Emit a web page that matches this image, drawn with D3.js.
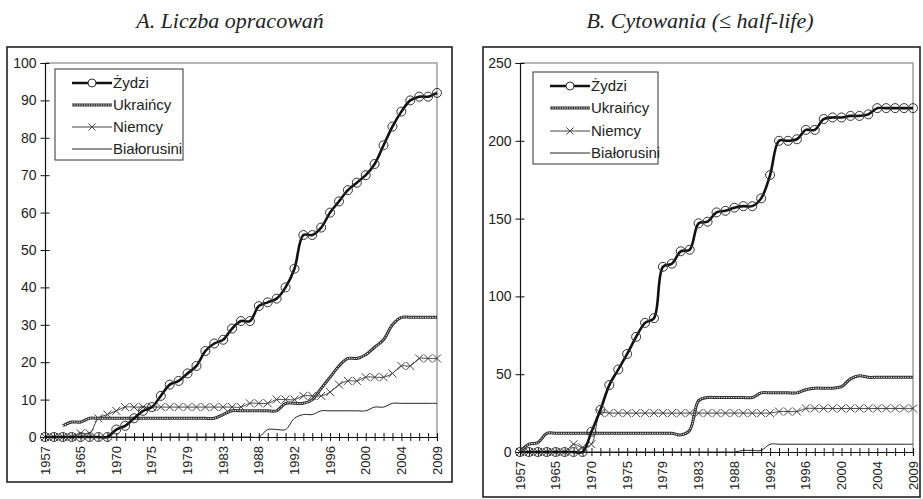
<!DOCTYPE html>
<html><head><meta charset="utf-8">
<script src="https://cdn.jsdelivr.net/npm/d3@7"></script>
<style>
body{margin:0;background:#fff;}
svg{display:block;}
</style></head>
<body>
<svg id="c" width="923" height="499"></svg>
<script>
const years = [1957,1960,1962,1964,1965,1966,1967,1969,1970,1971,1972,1974,1975,1976,1977,1978,1979,1980,1981,1982,1983,1984,1985,1986,1988,1989,1990,1991,1992,1993,1994,1995,1996,1997,1998,1999,2000,2001,2002,2003,2004,2005,2006,2007,2009];
const shownYears = [1957,1965,1970,1975,1979,1983,1988,1992,1996,2000,2004,2009];
const seriesNames = ["Żydzi","Ukraińcy","Niemcy","Białorusini"];
const titles = ["A. Liczba opracowań","B. Cytowania (≤ half-life)"];

// Chart A: number of studies
const zydziA = [0,0,0,0,0,0,0,0,2,3,5,7,8,11,14,15,17,19,23,25,26,29,31,31,35,36,37,40,45,54,54,56,60,63,66,68,70,73,78,83,87,90,91,91,92];
const ukrA   = [null,null,3,4,4,5,5,5,5,5,5,5,5,5,5,5,5,5,5,5,6,7,7,7,7,7,7,9,9,9,10,13,16,19,21,21,22,24,26,30,32,32,32,32,32];
const niemA  = [0,0,0,0,1,1,5,6,7,8,8,8,8,8,8,8,8,8,8,8,8,8,8,9,9,9,10,10,10,11,11,11,12,14,15,15,16,16,16,17,19,19,21,21,21];
const belA   = [0,0,0,0,0,0,0,0,0,0,0,0,0,0,0,0,0,0,0,0,0,0,0,0,0,2,2,2,5,6,6,7,7,7,7,7,7,8,8,9,9,9,9,9,9];
const ticksA = [0,10,20,30,40,50,60,70,80,90,100];

// Chart B: citations
const zydziB = [0,0,0,0,0,0,0,0,13,27,43,53,63,74,83,86,119,121,129,130,147,148,154,155,157,158,158,163,178,200,200,201,207,207,214,215,215,216,216,217,221,221,221,221,221];
const ukrB   = [0,5,6,12,12,12,12,12,12,12,12,12,12,12,12,12,12,12,11,14,33,35,35,35,35,35,35,38,38,38,38,38,40,41,41,41,42,47,49,48,48,48,48,48,48];
const niemB  = [0,0,0,0,0,0,5,3,5,25,25,25,25,25,25,25,25,25,25,25,25,25,25,25,25,25,25,25,25,26,26,26,28,28,28,28,28,28,28,28,28,28,28,28,28];
const belB   = [0,0,0,0,0,0,0,0,0,0,0,0,0,0,0,0,0,0,0,0,0,0,0,0,0,1,1,1,5,5,5,5,5,5,5,5,5,5,5,5,5,5,5,5,5];
const ticksB = [0,50,100,150,200,250];

const svg = d3.select("#c");
const FONT = "'Liberation Sans', Arial, sans-serif";

function drawChart(cfg){
  const g = svg.append("g");
  g.append("rect").attr("x",cfg.frame[0]).attr("y",cfg.frame[1])
    .attr("width",cfg.frame[2]-cfg.frame[0]).attr("height",cfg.frame[3]-cfg.frame[1])
    .attr("fill","none").attr("stroke","#222").attr("stroke-width",1.6);
  svg.append("text").attr("x",cfg.titleX).attr("y",28).attr("text-anchor","middle")
    .attr("font-family","'Liberation Serif','Times New Roman',serif").attr("font-style","italic")
    .attr("font-size",22).attr("fill","#222").text(cfg.title);

  const x = d3.scalePoint().domain(years).range([cfg.x0,cfg.x1]).padding(0);
  const y = d3.scaleLinear().domain([0,cfg.max]).range([cfg.y0,cfg.y1]);

  g.append("path").attr("d",`M${cfg.x0},${cfg.y1}H${cfg.x1}V${cfg.y0}`)
    .attr("fill","none").attr("stroke","#a0a0a0").attr("stroke-width",1.5);

  const ya = g.append("g").attr("transform",`translate(${cfg.x0},0)`)
    .call(d3.axisLeft(y).tickValues(cfg.ticks).tickSize(4.5).tickPadding(4).tickFormat(d3.format("d")));
  ya.select(".domain").attr("stroke","#111").attr("stroke-width",1.2);
  ya.selectAll(".tick line").attr("x2",4.5).attr("x1",-4.5).attr("stroke","#111");
  ya.selectAll("text").attr("font-family",FONT).attr("font-size",14).attr("fill","#222");

  const xa = g.append("g").attr("transform",`translate(0,${cfg.y0})`)
    .call(d3.axisBottom(x).tickSize(4).tickFormat(""));
  xa.select(".domain").attr("stroke","#111").attr("stroke-width",1.2);
  xa.selectAll(".tick line").attr("y1",-4).attr("y2",4).attr("stroke","#111");
  g.selectAll(null).data(shownYears).enter().append("text")
    .attr("transform",d=>`matrix(0,-1,1,0,${x(d)},${cfg.y0+9})`)
    .style("transform-origin","0 0")
    .attr("text-anchor","end").attr("dy","0.35em")
    .attr("font-family",FONT).attr("font-size",13).attr("fill","#222").text(d=>d);

  const curve = d3.curveCatmullRom.alpha(0.5);
  const line = d3.line().defined(d => d[1] !== null)
    .x(d => x(d[0])).y(d => y(d[1])).curve(curve);
  const pts = arr => years.map((yr,i) => [yr, arr[i]]);

  g.append("path").attr("d",line(pts(cfg.bel))).attr("fill","none").attr("stroke","#222").attr("stroke-width",1);
  g.append("path").attr("d",line(pts(cfg.niem))).attr("fill","none").attr("stroke","#444").attr("stroke-width",1);
  g.selectAll(null).data(pts(cfg.niem).filter(d=>d[1]!==null)).enter().append("path")
    .attr("d",d=>{const cx=x(d[0]),cy=y(d[1]),s=4;return `M${cx-s},${cy-s}L${cx+s},${cy+s}M${cx-s},${cy+s}L${cx+s},${cy-s}`;})
    .attr("stroke","#444").attr("stroke-width",1).attr("fill","none");
  g.append("path").attr("d",line(pts(cfg.ukr))).attr("fill","none").attr("stroke","#333").attr("stroke-width",3);
  g.append("path").attr("d",line(pts(cfg.ukr))).attr("fill","none").attr("stroke","#fff").attr("stroke-width",1).attr("stroke-dasharray","1.2,1.2");
  g.append("path").attr("d",line(pts(cfg.zyd))).attr("fill","none").attr("stroke","#111").attr("stroke-width",2.6);
  g.selectAll(null).data(pts(cfg.zyd)).enter().append("circle")
    .attr("cx",d=>x(d[0])).attr("cy",d=>y(d[1])).attr("r",4.5)
    .attr("fill","none").attr("stroke","#333").attr("stroke-width",1);

  const L = cfg.legend;
  g.append("rect").attr("x",L.x).attr("y",L.y).attr("width",L.w).attr("height",L.h)
    .attr("fill","#fff").attr("stroke","#333").attr("stroke-width",1);
  seriesNames.forEach((name,i) => {
    const ry = L.rows[i];
    const lx0 = L.x + 17, lx1 = L.x + 57;
    const lg = g.append("g");
    if (i===0){
      lg.append("line").attr("x1",lx0).attr("x2",lx1).attr("y1",ry).attr("y2",ry).attr("stroke","#111").attr("stroke-width",2.6);
      lg.append("circle").attr("cx",(lx0+lx1)/2).attr("cy",ry).attr("r",4).attr("fill","#fff").attr("stroke","#333");
    } else if (i===1){
      lg.append("line").attr("x1",lx0).attr("x2",lx1).attr("y1",ry).attr("y2",ry).attr("stroke","#333").attr("stroke-width",3);
      lg.append("line").attr("x1",lx0).attr("x2",lx1).attr("y1",ry).attr("y2",ry).attr("stroke","#fff").attr("stroke-width",1).attr("stroke-dasharray","1.2,1.2");
    } else if (i===2){
      lg.append("line").attr("x1",lx0).attr("x2",lx1).attr("y1",ry).attr("y2",ry).attr("stroke","#444").attr("stroke-width",1);
      const cx=(lx0+lx1)/2, s=3.5;
      lg.append("path").attr("d",`M${cx-s},${ry-s}L${cx+s},${ry+s}M${cx-s},${ry+s}L${cx+s},${ry-s}`).attr("stroke","#444");
    } else {
      lg.append("line").attr("x1",lx0).attr("x2",lx1).attr("y1",ry).attr("y2",ry).attr("stroke","#222").attr("stroke-width",1);
    }
    lg.append("text").attr("x",lx1+1).attr("y",ry).attr("dy","0.35em")
      .attr("font-family",FONT).attr("font-size",15).attr("fill","#222").text(name);
  });
}

drawChart({frame:[7,47,452,482], title:titles[0], titleX:230,
  x0:45, x1:437, y0:437, y1:63, max:100, ticks:ticksA,
  zyd:zydziA, ukr:ukrA, niem:niemA, bel:belA,
  legend:{x:55,y:69,w:128,h:91,rows:[83,105,127,149]}});

drawChart({frame:[483,47,920,497], title:titles[1], titleX:700,
  x0:520, x1:913, y0:452, y1:63, max:250, ticks:ticksB,
  zyd:zydziB, ukr:ukrB, niem:niemB, bel:belB,
  legend:{x:533,y:72,w:125,h:92,rows:[86,108,131,153]}});
</script>
</body></html>
